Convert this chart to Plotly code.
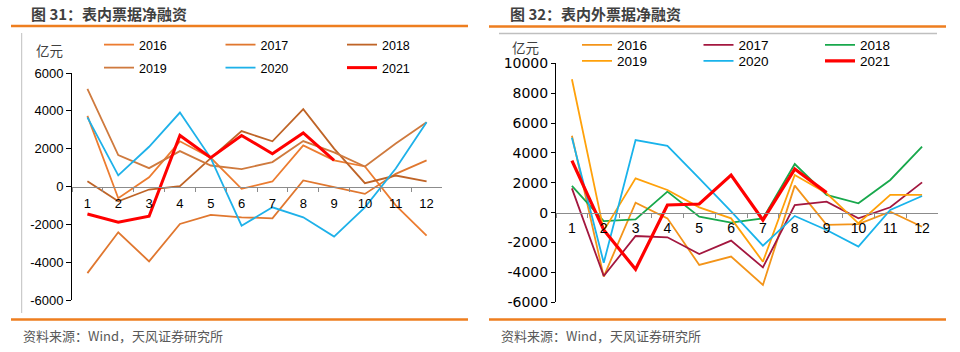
import plotly.graph_objects as go

W, H = 960, 352

months = [str(i) for i in range(1, 13)]
years = ["2016", "2017", "2018", "2019", "2020", "2021"]

# 图31 表内票据净融资 (亿元)
left_2016 = [3730, -620, 490, 2390, 1520, -120, 265, 2175, 1380, 1060, -1000, -2600]
left_2017 = [-4580, -2420, -3960, -1980, -1500, -1630, -1680, 320, -30, -390, 670, 1380]
left_2018 = [280, -780, -160, 16, 1500, 2930, 2390, 4085, 2000, 175, 580, 265]
left_2019 = [5160, 1660, 970, 1870, 1110, 920, 1290, 2400, 1800, 1060, 2270, 3400]
left_2020 = [3650, 590, 2100, 3910, 1500, -2070, -1100, -1630, -2650, -1100, 950, 3400]
left_2021 = [-1450, -1890, -1570, 2700, 1520, 2700, 1730, 2830, 1380]

# 图32 表内外票据净融资 (亿元)
right_2016 = [5150, -4280, 670, -380, -3500, -2940, -4840, 1810, -820, -760, 70, -940]
right_2017 = [1630, -4240, -1560, -1650, -2770, -1870, -3660, 515, 740, -380, 360, 2030]
right_2018 = [1790, -560, -445, 1410, -270, -670, -380, 3260, 1190, 630, 2190, 4420]
right_2019 = [8930, -1200, 2300, 1520, 360, -380, -3280, 2520, 1300, -710, 1190, 1190]
right_2020 = [5020, -3350, 4860, 4470, 2300, 90, -2210, -220, -1160, -2270, 180, 1120]
right_2021 = [3480, -1160, -3790, 515, 580, 2520, -490, 2920, 1340]

left_ticks = [-6000, -4000, -2000, 0, 2000, 4000, 6000]
left_ticktext = ["-6000", "-4000", "-2000", "0", "2000", "4000", "6000"]
right_ticks = [-6000, -4000, -2000, 0, 2000, 4000, 6000, 8000, 10000]
right_ticktext = ["-6000", "-4000", "-2000", "0", "2000", "4000", "6000", "8000", "10000"]

left_colors = ["#EC7C30", "#E0772F", "#BF6427", "#CF7A3E", "#1EB1E9", "#FF0000"]
right_colors = ["#F39419", "#A3173F", "#18A84C", "#FFA10A", "#19B3EB", "#FF0000"]

def px(x):
    return x / W

def py(y):
    return 1 - y / H

fig = go.Figure()

left_series = [left_2016, left_2017, left_2018, left_2019, left_2020, left_2021]
right_series = [right_2016, right_2017, right_2018, right_2019, right_2020, right_2021]

for i, (yr, vals) in enumerate(zip(years, left_series)):
    fig.add_trace(go.Scatter(
        x=months[:len(vals)], y=vals, mode="lines", name=yr,
        line=dict(color=left_colors[i], width=3 if yr == "2021" else 1.8),
        xaxis="x", yaxis="y", legend="legend" if i < 3 else "legend2",
        hoverinfo="skip"))

for i, (yr, vals) in enumerate(zip(years, right_series)):
    fig.add_trace(go.Scatter(
        x=months[:len(vals)], y=vals, mode="lines", name=yr,
        line=dict(color=right_colors[i], width=3.2 if yr == "2021" else 1.8),
        xaxis="x2", yaxis="y2", legend="legend3" if i < 3 else "legend4",
        hoverinfo="skip"))

tick_font = dict(family="Liberation Sans, Arial, sans-serif", size=13, color="#000000")
leg_common = dict(orientation="h", xanchor="left", yanchor="middle",
                  bgcolor="rgba(0,0,0,0)", entrywidth=76.5, entrywidthmode="pixels",
                  itemwidth=30, tracegroupgap=0, itemclick=False, itemdoubleclick=False)

fig.update_layout(
    width=W, height=H,
    margin=dict(l=0, r=0, t=0, b=0, autoexpand=False),
    paper_bgcolor="white", plot_bgcolor="white",
    xaxis=dict(type="category", domain=[px(72), px(442)], range=[-0.5, 11.5],
               anchor="free", position=(py(73) + py(300)) / 2,
               showline=True, linecolor="#8C8C8C", linewidth=1,
               ticks="outside", ticklen=4, tickcolor="#8C8C8C", tickson="boundaries",
               showgrid=False, zeroline=False, tickfont=tick_font, ticklabelstandoff=5),
    yaxis=dict(domain=[py(300), py(73)], range=[-6000, 6000], anchor="x",
               tickvals=left_ticks, ticktext=left_ticktext,
               showline=True, linecolor="#000000", linewidth=1,
               ticks="outside", ticklen=5, tickcolor="#000000",
               showgrid=False, zeroline=False, tickfont=tick_font),
    xaxis2=dict(type="category", domain=[px(556), px(938)], range=[-0.5, 11.5],
                anchor="free", position=py(302.3) + (py(63.3) - py(302.3)) * 6 / 16,
                showline=True, linecolor="#8C8C8C", linewidth=1,
                ticks="outside", ticklen=4, tickcolor="#8C8C8C", tickson="boundaries",
                showgrid=False, zeroline=False, tickfont=dict(family="Liberation Sans, Arial, sans-serif", size=14, color="#000000"),
                ticklabelstandoff=3),
    yaxis2=dict(domain=[py(302.3), py(63.3)], range=[-6000, 10000], anchor="x2",
                tickvals=right_ticks, ticktext=right_ticktext,
                showline=True, linecolor="#000000", linewidth=1,
                ticks="outside", ticklen=4, tickcolor="#000000",
                showgrid=False, zeroline=False,
                tickfont=dict(family="DejaVu Sans, sans-serif", size=14, color="#000000")),
    legend=dict(x=px(99), y=py(45), font=dict(family="Liberation Sans, Arial", size=12.5, color="#000"), **leg_common),
    legend2=dict(x=px(99), y=py(68), font=dict(family="Liberation Sans, Arial", size=12.5, color="#000"), **leg_common),
    legend3=dict(x=px(577), y=py(45), font=dict(family="Liberation Sans, Arial", size=13.5, color="#000"), **leg_common),
    legend4=dict(x=px(577), y=py(61), font=dict(family="Liberation Sans, Arial", size=13.5, color="#000"), **leg_common),
)

orange = "#EE7E1F"
shapes = [
    dict(type="line", xref="paper", yref="paper", x0=px(11), x1=px(468), y0=py(26), y1=py(26), line=dict(color=orange, width=2.5)),
    dict(type="line", xref="paper", yref="paper", x0=px(11), x1=px(468), y0=py(319.5), y1=py(319.5), line=dict(color=orange, width=2.5)),
    dict(type="line", xref="paper", yref="paper", x0=px(489), x1=px(946), y0=py(26.5), y1=py(26.5), line=dict(color=orange, width=2.5)),
    dict(type="line", xref="paper", yref="paper", x0=px(489), x1=px(946), y0=py(319.5), y1=py(319.5), line=dict(color=orange, width=2.5)),
    dict(type="line", xref="paper", yref="paper", x0=px(21.7), x1=px(21.7), y0=py(33), y1=py(313), line=dict(color="#BFBFBF", width=1)),
    dict(type="line", xref="paper", yref="paper", x0=px(499), x1=px(937), y0=py(33.5), y1=py(33.5), line=dict(color="#BFBFBF", width=1.5)),
]
fig.update_layout(shapes=shapes)

cjk = "Noto Sans CJK SC, sans-serif"
annotations = [
    dict(text="<b>图 31：表内票据净融资</b>", x=px(29), y=py(13), xanchor="left", yanchor="middle",
         font=dict(family=cjk, size=15, color="#404040")),
    dict(text="<b>图 32：表内外票据净融资</b>", x=px(508), y=py(13), xanchor="left", yanchor="middle",
         font=dict(family=cjk, size=15, color="#404040")),
    dict(text="资料来源：Wind，天风证券研究所", x=px(21), y=py(335), xanchor="left", yanchor="middle",
         font=dict(family=cjk, size=13, color="#595959")),
    dict(text="资料来源：Wind，天风证券研究所", x=px(499), y=py(335), xanchor="left", yanchor="middle",
         font=dict(family=cjk, size=13, color="#595959")),
    dict(text="亿元", x=px(49), y=py(50), xanchor="center", yanchor="middle",
         font=dict(family=cjk, size=13.5, color="#404040")),
    dict(text="亿元", x=px(525), y=py(47), xanchor="center", yanchor="middle",
         font=dict(family=cjk, size=13.5, color="#404040")),
]
for a in annotations:
    a.update(xref="paper", yref="paper", showarrow=False)
fig.update_layout(annotations=annotations)

fig.write_html("out.html")
